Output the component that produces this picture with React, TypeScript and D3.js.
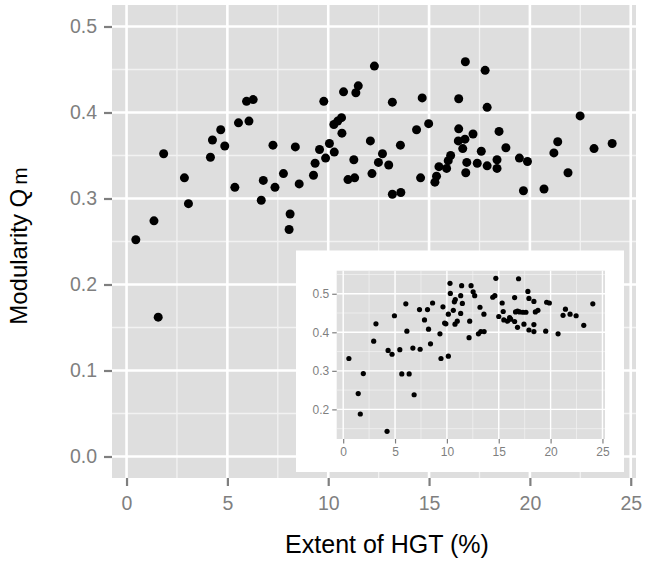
import React, { useRef, useEffect } from 'react';
import * as d3 from 'd3';

// main panel: extent of HGT (%) vs modularity
const mainX = [0.46, 1.36, 1.57, 1.84, 2.87, 3.07, 4.16, 4.26, 4.67, 4.87, 5.37, 5.55, 5.95, 6.28, 6.07, 6.68, 6.78, 7.26, 7.36, 7.78,
    8.11, 8.06, 8.37, 8.56, 9.27, 9.35, 9.57, 9.78, 9.87, 10.06, 10.30, 10.28, 10.47, 10.66, 10.68, 10.76, 10.98, 11.27, 11.31, 11.37,
    11.49, 12.09, 12.17, 12.29, 12.49, 12.69, 13.00, 13.18, 13.18, 13.60, 13.58, 14.38, 14.58, 14.66, 14.98, 15.29, 15.37, 15.49, 15.87, 15.95,
    16.07, 16.47, 16.47, 16.45, 16.67, 16.80, 17.78, 17.88, 17.18, 16.78, 17.59, 18.47, 18.81, 16.87, 17.39, 17.88, 16.82, 18.37, 18.37, 19.48,
    19.88, 19.68, 20.70, 21.19, 21.38, 21.89, 22.49, 23.18, 24.08];
const mainY = [0.252, 0.274, 0.162, 0.352, 0.324, 0.294, 0.348, 0.368, 0.380, 0.361, 0.313, 0.388, 0.413, 0.415, 0.390, 0.298, 0.321, 0.362, 0.313, 0.329,
    0.282, 0.264, 0.360, 0.317, 0.327, 0.341, 0.357, 0.413, 0.347, 0.364, 0.354, 0.386, 0.390, 0.394, 0.376, 0.424, 0.322, 0.345, 0.324, 0.423,
    0.431, 0.367, 0.329, 0.454, 0.342, 0.352, 0.339, 0.412, 0.305, 0.307, 0.362, 0.380, 0.324, 0.417, 0.387, 0.319, 0.326, 0.337, 0.335, 0.344,
    0.350, 0.416, 0.381, 0.367, 0.358, 0.459, 0.449, 0.406, 0.375, 0.369, 0.355, 0.378, 0.359, 0.342, 0.341, 0.338, 0.330, 0.345, 0.335, 0.347,
    0.343, 0.309, 0.311, 0.353, 0.366, 0.330, 0.396, 0.358, 0.364];

// inset
const insetX = [0.55, 1.45, 1.65, 1.94, 2.94, 3.16, 4.23, 4.33, 4.71, 4.94, 5.46, 5.65, 6.04, 6.14, 6.36, 6.72, 6.84, 7.36, 7.42, 7.84,
    8.13, 8.23, 8.42, 8.62, 9.33, 9.43, 9.62, 9.78, 9.90, 10.14, 10.14, 10.30, 10.33, 10.62, 10.72, 10.81, 10.78, 11.00, 11.33, 11.33,
    11.42, 11.49, 12.14, 12.20, 12.33, 12.53, 12.68, 13.19, 13.57, 13.04, 13.27, 13.59, 14.42, 14.62, 14.72, 15.00, 15.33, 15.43, 15.49, 15.85,
    16.05, 16.15, 16.53, 16.53, 16.62, 16.81, 16.81, 16.91, 17.01, 17.33, 17.62, 17.43, 17.81, 17.91, 17.91, 18.39, 18.39, 18.39, 18.53, 18.78,
    19.53, 19.62, 19.88, 20.72, 21.20, 21.43, 21.88, 22.46, 23.20, 24.07];
const insetY = [0.332, 0.241, 0.188, 0.293, 0.377, 0.422, 0.143, 0.353, 0.343, 0.443, 0.355, 0.292, 0.474, 0.403, 0.292, 0.359, 0.238, 0.459, 0.356, 0.432,
    0.459, 0.408, 0.370, 0.476, 0.396, 0.332, 0.466, 0.424, 0.422, 0.447, 0.338, 0.527, 0.501, 0.457, 0.479, 0.485, 0.421, 0.429, 0.495, 0.449,
    0.521, 0.475, 0.386, 0.429, 0.521, 0.505, 0.495, 0.465, 0.447, 0.396, 0.402, 0.402, 0.491, 0.495, 0.540, 0.441, 0.476, 0.454, 0.432, 0.429,
    0.438, 0.434, 0.490, 0.428, 0.453, 0.413, 0.455, 0.539, 0.453, 0.452, 0.452, 0.421, 0.506, 0.488, 0.406, 0.480, 0.420, 0.402, 0.453, 0.457,
    0.403, 0.478, 0.476, 0.396, 0.444, 0.460, 0.447, 0.443, 0.418, 0.474];

const xTicks = [0, 5, 10, 15, 20, 25];
const mainYTicks = [0.0, 0.1, 0.2, 0.3, 0.4, 0.5];
const insetYTicks = [0.2, 0.3, 0.4, 0.5];

const FONT = "'Liberation Sans', Arial, Helvetica, sans-serif";

const expand = (ext) => {
    const pad = (ext[1] - ext[0]) * 0.05;
    return [ext[0] - pad, ext[1] + pad];
};

// draws a ggplot-like panel: grey background, minor + major grid, ticks and labels
const drawPanel = (g, x, y, xt, yt, opt) => {
    const [x0, x1] = x.range();
    const [y0, y1] = y.range();
    g.append("rect")
        .attr("x", x0).attr("y", y1)
        .attr("width", x1 - x0).attr("height", y0 - y1)
        .attr("fill", "#DEDEDE");

    const xd = x.domain(), yd = y.domain();
    const xStep = xt[1] - xt[0], yStep = yt[1] - yt[0];
    const xMinor = d3.range(xt[0] - xStep / 2, xd[1], xStep).filter(v => v > xd[0] && v < xd[1]);
    const yMinor = d3.range(yt[0] - yStep / 2, yd[1], yStep).filter(v => v > yd[0] && v < yd[1]);

    g.append("g").selectAll("line").data(xMinor).join("line")
        .attr("x1", d => x(d)).attr("x2", d => x(d)).attr("y1", y0).attr("y2", y1)
        .attr("stroke", "#F2F2F2").attr("stroke-width", opt.minorW);
    g.append("g").selectAll("line").data(yMinor).join("line")
        .attr("y1", d => y(d)).attr("y2", d => y(d)).attr("x1", x0).attr("x2", x1)
        .attr("stroke", "#F2F2F2").attr("stroke-width", opt.minorW);
    g.append("g").selectAll("line").data(xt).join("line")
        .attr("x1", d => x(d)).attr("x2", d => x(d)).attr("y1", y0).attr("y2", y1)
        .attr("stroke", "#FFFFFF").attr("stroke-width", opt.majorW);
    g.append("g").selectAll("line").data(yt).join("line")
        .attr("y1", d => y(d)).attr("y2", d => y(d)).attr("x1", x0).attr("x2", x1)
        .attr("stroke", "#FFFFFF").attr("stroke-width", opt.majorW);

    // axes
    const xa = g.append("g").attr("transform", `translate(0,${y0})`)
        .call(d3.axisBottom(x).tickValues(xt).tickSize(opt.tick).tickPadding(opt.xPad).tickFormat(d3.format("d")));
    const ya = g.append("g").attr("transform", `translate(${x0},0)`)
        .call(d3.axisLeft(y).tickValues(yt).tickSize(opt.tick).tickPadding(opt.yPad).tickFormat(d3.format(".1f")));
    [xa, ya].forEach(a => {
        a.select(".domain").remove();
        a.selectAll("line").attr("stroke", "#7F7F7F").attr("stroke-width", opt.tickW);
        a.selectAll("text").attr("fill", "#7F7F7F").attr("font-size", opt.font).attr("font-family", FONT);
    });
};

const App = () => {
    const svgRef = useRef();

    useEffect(() => {
        const svg = d3.select(svgRef.current);
        svg.selectAll("*").remove();

        // main panel
        const x = d3.scaleLinear().domain(expand(d3.extent(mainX))).range([112, 636]);
        const y = d3.scaleLinear().domain([-0.025, 0.525]).range([478, 5]);
        const main = svg.append("g");
        drawPanel(main, x, y, xTicks, mainYTicks, { minorW: 1.3, majorW: 2.6, tick: 8, tickW: 2.2, font: 19.5, xPad: 10, yPad: 7 });

        main.append("g").selectAll("circle")
            .data(mainX.map((v, i) => [v, mainY[i]]))
            .join("circle")
            .attr("cx", d => x(d[0]))
            .attr("cy", d => y(d[1]))
            .attr("r", 4.5)
            .attr("fill", "#000");

        // axis titles
        svg.append("text")
            .attr("x", 387).attr("y", 553)
            .attr("text-anchor", "middle")
            .attr("font-family", FONT).attr("font-size", 25)
            .attr("fill", "#000")
            .text("Extent of HGT (%)");

        const yl = svg.append("text")
            .attr("transform", "translate(27,246) rotate(-90)")
            .attr("text-anchor", "middle")
            .attr("font-family", FONT).attr("font-size", 24)
            .attr("fill", "#000");
        yl.append("tspan").text("Modularity Q");
        yl.append("tspan").attr("dx", 4).attr("font-size", 21).text("m");

        // inset
        svg.append("rect")
            .attr("x", 296).attr("y", 250.5)
            .attr("width", 328).attr("height", 221.5)
            .attr("fill", "#FFFFFF");
        const ix = d3.scaleLinear().domain(expand(d3.extent(insetX))).range([336.7, 605]);
        const iy = d3.scaleLinear().domain(expand(d3.extent(insetY))).range([439, 270.7]);
        const inset = svg.append("g");
        drawPanel(inset, ix, iy, xTicks, insetYTicks, { minorW: 0.7, majorW: 1.4, tick: 4.5, tickW: 1.2, font: 12, xPad: 4, yPad: 3 });

        inset.append("g").selectAll("circle")
            .data(insetX.map((v, i) => [v, insetY[i]]))
            .join("circle")
            .attr("cx", d => ix(d[0]))
            .attr("cy", d => iy(d[1]))
            .attr("r", 2.6)
            .attr("fill", "#000");
    }, []);

    return <svg ref={svgRef} width={646} height={573}
        style={{ position: 'absolute', left: 0, top: 0, background: '#fff' }}></svg>;
};

export default App;
